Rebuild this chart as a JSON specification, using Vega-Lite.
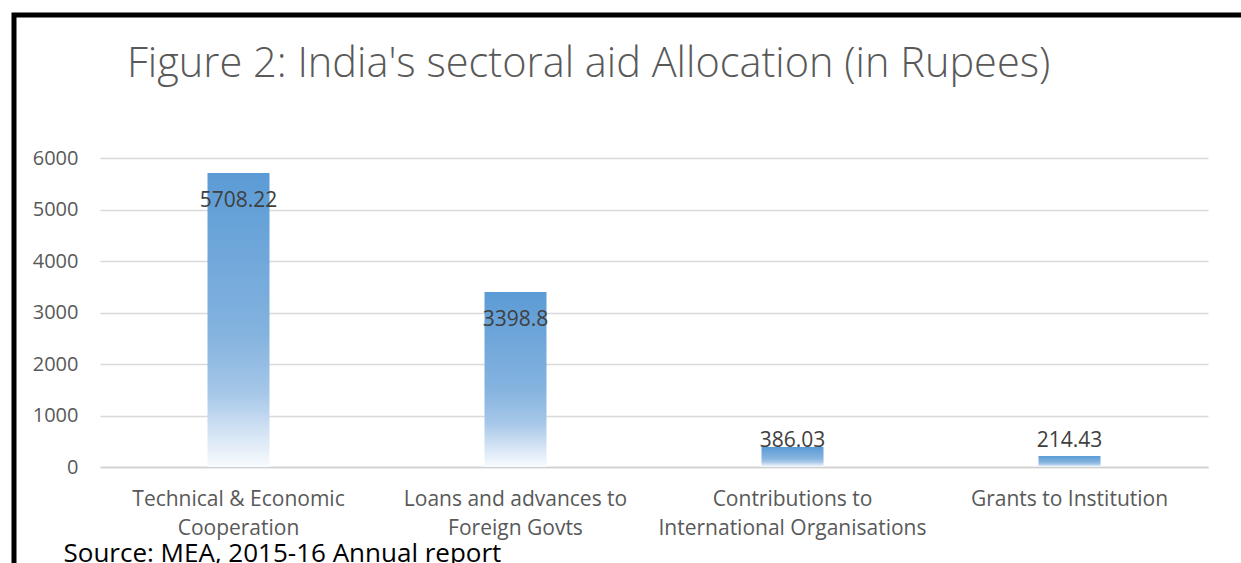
{
  "$schema": "https://vega.github.io/schema/vega-lite/v6.json",
  "autosize": {"type": "none"},
  "padding": {"left": 14, "top": 15, "right": 0, "bottom": 0},
  "width": 1300,
  "height": 620,
  "background": "white",
  "config": {
    "view": {"stroke": "black", "strokeWidth": 5},
    "font": "Open Sans"
  },
  "title": {
    "text": "Figure 2: India's sectoral aid Allocation (in Rupees)",
    "font": "Open Sans",
    "fontSize": 41.5,
    "fontWeight": 300,
    "color": "#595959",
    "anchor": "start",
    "frame": "group",
    "dx": 113,
    "offset": -103,
    "baseline": "alphabetic"
  },
  "data": {
    "values": [
      {"category": "Technical & Economic Cooperation", "amount": 5708.22},
      {"category": "Loans and advances to Foreign Govts", "amount": 3398.8},
      {"category": "Contributions to International Organisations", "amount": 386.03},
      {"category": "Grants to Institution", "amount": 214.43}
    ]
  },
  "encoding": {
    "x": {
      "field": "category",
      "type": "nominal",
      "sort": null,
      "scale": {"range": [86, 1194], "paddingInner": 0, "paddingOuter": 0},
      "axis": {
        "orient": "bottom",
        "offset": -168,
        "labelAngle": 0,
        "labelFont": "Open Sans",
        "labelFontSize": 21,
        "labelColor": "#595959",
        "labelLineHeight": 29,
        "labelPadding": 21,
        "labelLimit": 400,
        "ticks": false,
        "domain": true,
        "domainColor": "#d0d0d0",
        "domainWidth": 1.5,
        "labelExpr": "datum.value == 'Technical & Economic Cooperation' ? ['Technical & Economic', 'Cooperation'] : datum.value == 'Loans and advances to Foreign Govts' ? ['Loans and advances to', 'Foreign Govts'] : datum.value == 'Contributions to International Organisations' ? ['Contributions to', 'International Organisations'] : datum.value",
        "title": "Source: MEA, 2015-16 Annual report",
        "titleFont": "Open Sans",
        "titleFontSize": 26,
        "titleFontWeight": "normal",
        "titleColor": "black",
        "titleAnchor": "start",
        "titleAlign": "left",
        "titleBaseline": "alphabetic",
        "titleX": 49,
        "titleY": 94
      }
    }
  },
  "layer": [
    {
      "mark": {
        "type": "bar",
        "size": 62,
        "color": {
          "gradient": "linear",
          "x1": 0, "y1": 0, "x2": 0, "y2": 1,
          "stops": [
            {"offset": 0, "color": "#5b9bd5"},
            {"offset": 0.55, "color": "#84b3df"},
            {"offset": 0.75, "color": "#a6c7e8"},
            {"offset": 0.88, "color": "#d3e3f4"},
            {"offset": 1, "color": "#f8fbfe"}
          ]
        }
      },
      "encoding": {
        "y": {
          "field": "amount",
          "type": "quantitative",
          "scale": {"domain": [0, 6000], "range": [452, 143], "nice": false},
          "axis": {
            "orient": "left",
            "offset": -86,
            "values": [0, 1000, 2000, 3000, 4000, 5000, 6000],
            "format": "d",
            "labelFont": "Open Sans",
            "labelFontSize": 20,
            "labelColor": "#595959",
            "labelPadding": 22,
            "ticks": false,
            "domain": false,
            "grid": true,
            "gridColor": "#d9d9d9",
            "gridWidth": 1.5,
            "title": null
          }
        }
      }
    },
    {
      "transform": [{"filter": "datum.amount > 1000"}],
      "mark": {"type": "text", "font": "Open Sans", "fontSize": 21, "color": "#404040", "baseline": "middle", "dy": 28},
      "encoding": {
        "y": {"field": "amount", "type": "quantitative"},
        "text": {"field": "amount", "type": "quantitative"}
      }
    },
    {
      "transform": [{"filter": "datum.amount <= 1000"}],
      "mark": {"type": "text", "font": "Open Sans", "fontSize": 21, "color": "#404040", "baseline": "middle", "dy": -26},
      "encoding": {
        "y": {"datum": 0, "type": "quantitative"},
        "text": {"field": "amount", "type": "quantitative"}
      }
    }
  ]
}
